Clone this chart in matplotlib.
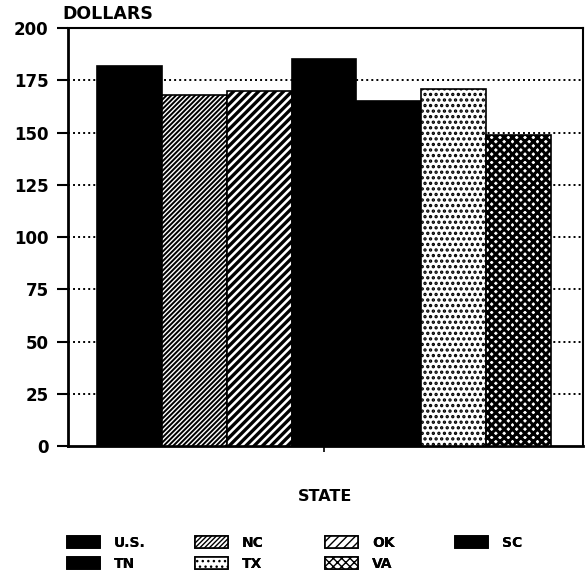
import matplotlib
matplotlib.use("Agg")
import matplotlib.pyplot as plt
from matplotlib.patches import Patch

states = ["U.S.", "NC", "OK", "SC", "TN", "TX", "VA"]
dollars = [182, 168, 170, 185, 165, 171, 149]
hatches = ["", "///////", "////", "", "", "...", "xxxx"]
hatch_widths = [1.0, 1.4, 2.4, 1.0, 1.0, 1.6, 2.2]
faces = ["black", "white", "white", "black", "black", "white", "white"]
yticks = [0, 25, 50, 75, 100, 125, 150, 175, 200]

plt.rcParams["font.family"] = ["DejaVu Sans"]
plt.rcParams["font.weight"] = "bold"


def make_patch(i, **kw):
    with plt.rc_context({"hatch.linewidth": hatch_widths[i]}):
        p = Patch(facecolor=faces[i], edgecolor="black", hatch=hatches[i],
                  linewidth=1.2, **kw)
    if hasattr(p, "set_hatch_linewidth"):
        p.set_hatch_linewidth(hatch_widths[i])
    return p


fig = plt.figure(figsize=(5.87, 5.79), dpi=100)
ax = fig.add_axes([0.1158, 0.2297, 0.8774, 0.7219])

for i, (state, v) in enumerate(zip(states, dollars)):
    with plt.rc_context({"hatch.linewidth": hatch_widths[i]}):
        b = ax.bar(i, v, width=1.0, color=faces[i], edgecolor="black",
                   hatch=hatches[i], linewidth=1.2, zorder=3)[0]
    if hasattr(b, "set_hatch_linewidth"):
        b.set_hatch_linewidth(hatch_widths[i])

ax.set_xlim(-0.947, 6.993)
ax.set_ylim(0, 200)
ax.set_yticks(yticks)
ax.set_yticklabels([str(t) for t in yticks], fontsize=12, fontweight="bold")
ax.set_xticks([3])
ax.set_xticklabels([""])
ax.tick_params(axis="y", direction="out", length=8, width=1.5, pad=6)
ax.tick_params(axis="x", direction="out", length=4, width=1.2)
for s in ax.spines.values():
    s.set_linewidth(1.5)
ax.spines["left"].set_linewidth(2.0)
ax.spines["bottom"].set_linewidth(2.0)

for t in yticks[1:-1]:
    ax.axhline(t, color="black", linestyle=(0, (1.0, 1.6)), linewidth=1.4, zorder=1)

fig.text(0.107, 0.976, "DOLLARS", fontsize=12.5, fontweight="bold", ha="left", va="center")
fig.text(0.5535, 0.143, "STATE", fontsize=11.5, fontweight="bold", ha="center", va="center")

# one legend per column: (left edge px, state indices top to bottom)
columns = [(67, [0, 4]), (195, [1, 5]), (325, [2, 6]), (455, [3])]
for left, idx in columns:
    handles = [make_patch(i, label=states[i]) for i in idx]
    leg = fig.legend(handles=handles, ncol=1, loc="upper left",
                     bbox_to_anchor=(left / 587, 0.075), bbox_transform=fig.transFigure,
                     frameon=False, prop={"size": 10, "weight": "bold"},
                     handlelength=2.4, handleheight=0.95, handletextpad=1.0,
                     labelspacing=0.55, borderpad=0.0, borderaxespad=0.0)
    fig.add_artist(leg)

fig.savefig("out.png", dpi=100)
